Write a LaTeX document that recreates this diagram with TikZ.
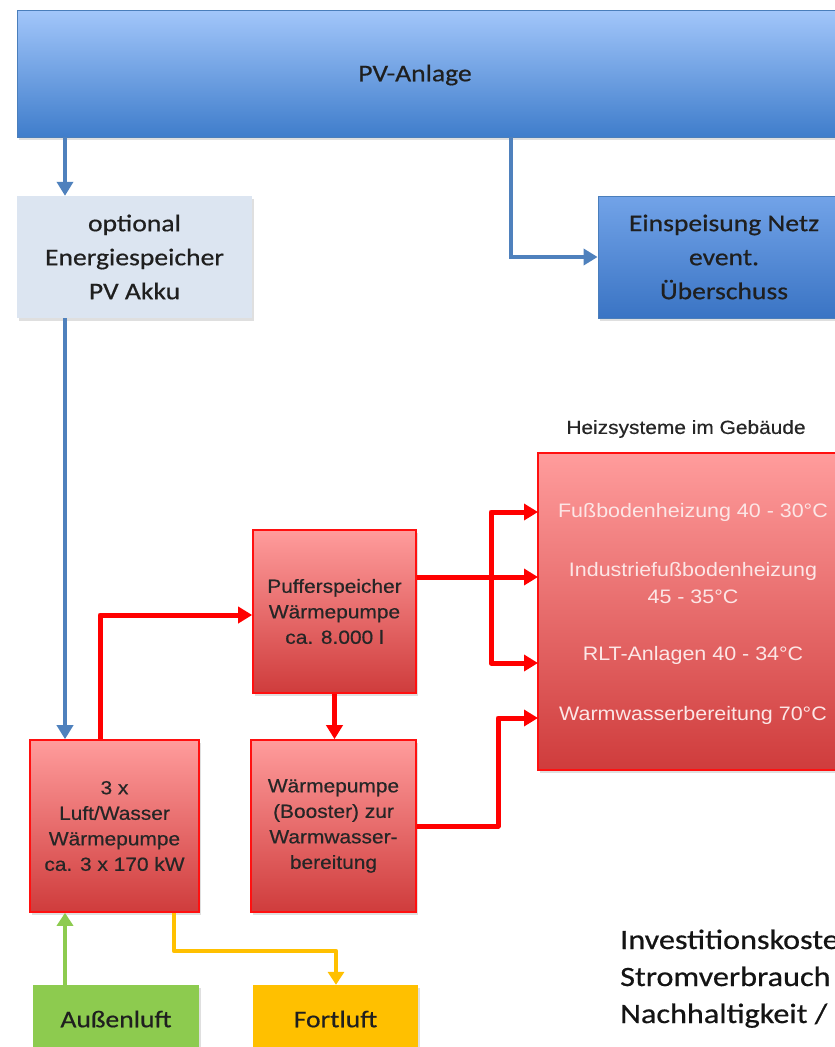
\documentclass[tikz,border=0pt]{standalone}
\usepackage{fontspec}
\setmainfont{Carlito}[FakeStretch=1.15,FakeBold=0.6]
\newfontfamily\arialf{Liberation Sans}[FakeStretch=1.1]
\newfontfamily\arialh{Liberation Sans}[FakeStretch=1.1,FakeBold=0.5]
\usetikzlibrary{arrows.meta,shadows,calc}
\definecolor{pvtop}{HTML}{A2C6FA}
\definecolor{pvbot}{HTML}{3F7DCB}
\definecolor{eintop}{HTML}{72A3E8}
\definecolor{einbot}{HTML}{3A74C4}
\definecolor{bblue}{HTML}{4A7EBB}
\definecolor{optfill}{HTML}{DCE5F1}
\definecolor{redtop}{HTML}{FF9C9C}
\definecolor{redbot}{HTML}{CF3C3C}
\definecolor{redline}{HTML}{FF1010}
\definecolor{arrred}{HTML}{FF0000}
\definecolor{grn}{HTML}{8DCB4F}
\definecolor{yel}{HTML}{FFC000}
\definecolor{pinktext}{HTML}{FCE6E6}
\definecolor{arrblue}{HTML}{4F81BD}
\tikzset{
  x=1pt, y=-1pt,
  shd/.style={drop shadow={opacity=0.25,shadow xshift=2pt,shadow yshift=-3pt}},
  bx/.style={inner sep=0pt, align=center, shd},
  pvbox/.style={bx, draw=bblue, line width=0.8pt, top color=pvtop, bottom color=pvbot},
  einbox/.style={bx, draw=bblue, line width=0.8pt, top color=eintop, bottom color=einbot},
  optbox/.style={bx, fill=optfill},
  redbox/.style={bx, draw=redline, line width=1.6pt, top color=redtop, bottom color=redbot},
  grnbox/.style={bx, fill=grn},
  yelbox/.style={bx, fill=yel},
  cal/.style={font=\fontsize{24}{34}\selectfont, text=black!88},
  arl/.style={font=\arialh\fontsize{19}{25.5}\selectfont, text=black!85},
  big/.style={align=center, font=\arialf\fontsize{19.5}{27}\selectfont, text=pinktext},
  barrow/.style={draw=arrblue, line width=4.5pt, -{Triangle[length=14pt,width=16pt]}},
  rarrow/.style={draw=arrred, line width=5pt, line join=round, -{Triangle[length=14pt,width=16pt]}},
  garrow/.style={draw=grn, line width=4.5pt, -{Triangle[length=13pt,width=16pt]}},
  yarrow/.style={draw=yel, line width=4.5pt, line join=round, -{Triangle[length=13pt,width=16pt]}},
  btxt/.style={font=\fontsize{28}{36}\selectfont, anchor=base west, inner sep=0pt, text=black!92},
}
\begin{document}
\begin{tikzpicture}
\useasboundingbox (0,0) rectangle (835,1047);
\clip (0,0) rectangle (835,1047);
\fill[white] (0,0) rectangle (835,1047);

% boxes
\node[pvbox, minimum width=833pt, minimum height=127pt] (pv) at (433.5,73.5) {};
\node[cal] (pvlab) at (415,75) {PV-Anlage};
\node[optbox, cal, minimum width=235pt, minimum height=122pt] (opt) at (134.5,257) {optional\\Energiespeicher\\PV Akku};
\node[einbox, cal, minimum width=252pt, minimum height=122pt] (ein) at (724,257) {Einspeisung Netz\\event.\\Überschuss};

\node[font=\arialh\fontsize{19}{22}\selectfont, text=black!85] (heiz) at (686,429) {Heizsysteme im Gebäude};
\node[redbox, minimum width=310pt, minimum height=317pt] (bigb) at (693,611.5) {};
\node[big] (tF) at (693,512) {Fußbodenheizung 40 - 30°C};
\node[big] (tI) at (693,583) {Industriefußbodenheizung\\45 - 35°C};
\node[big] (tR) at (693,655) {RLT-Anlagen 40 - 34°C};
\node[big] (tW) at (693,715) {Warmwasserbereitung 70°C};

\node[redbox, arl, minimum width=163pt, minimum height=163pt] (puf) at (334.5,611.5) {Pufferspeicher\\Wärmepumpe\\ca. 8.000 l};
\node[redbox, arl, minimum width=165pt, minimum height=172pt] (boost) at (333.5,826) {Wärmepumpe\\(Booster) zur\\Warmwasser-\\bereitung};
\node[redbox, arl, minimum width=169pt, minimum height=172pt] (hp) at (114.5,826) {3 x\\Luft/Wasser\\Wärmepumpe\\ca. 3 x 170 kW};

\node[grnbox, minimum width=166pt, minimum height=75pt] (aus) at (116,1022.5) {};
\node[cal] (auslab) at (116,1019) {Außenluft};
\node[yelbox, minimum width=165pt, minimum height=75pt] (fort) at (335.5,1022.5) {};
\node[cal] (fortlab) at (335.5,1019) {Fortluft};

\node[btxt] (inv1) at (620,949) {Investitionskosten};
\node[btxt] (inv2) at (620,986) {Stromverbrauch};
\node[btxt] (inv3) at (620,1023) {Nachhaltigkeit /};

% helper coordinates
\coordinate (jB) at (65,0);
\coordinate (jE) at (511,0);
\coordinate (jA) at (100,0);
\coordinate (bus) at (491,0);
\coordinate (jW) at (498,0);
\coordinate (inF) at (538,512);
\coordinate (inI) at (538,577);
\coordinate (inR) at (538,663);
\coordinate (inW) at (538,718);
\coordinate (jY1) at (174,0);
\coordinate (jY2) at (336,951);
\coordinate (jP) at (0,615);

% blue connectors
\draw[barrow] (pv.south -| jB) -- (opt.north -| jB);
\draw[barrow] (pv.south -| jE) |- (ein.west);
\draw[barrow] (opt.south -| jB) -- (hp.north -| jB);

% red connectors
\draw[rarrow] (hp.north -| jA) |- (puf.west |- jP);
\draw[rarrow] (puf.south) -- (puf.south |- boost.north);
\draw[rarrow] (puf.east |- inI) -- (inI);
\draw[rarrow] (bus |- inI) |- (inF);
\draw[rarrow] (bus |- inI) |- (inR);
\draw[rarrow] (boost.east) -| (jW |- inW) -- (inW);

% air connectors
\draw[garrow] (aus.north -| jB) -- (hp.south -| jB);
\draw[yarrow] (hp.south -| jY1) |- (jY2) -- (fort.north -| jY2);
\end{tikzpicture}
\end{document}
